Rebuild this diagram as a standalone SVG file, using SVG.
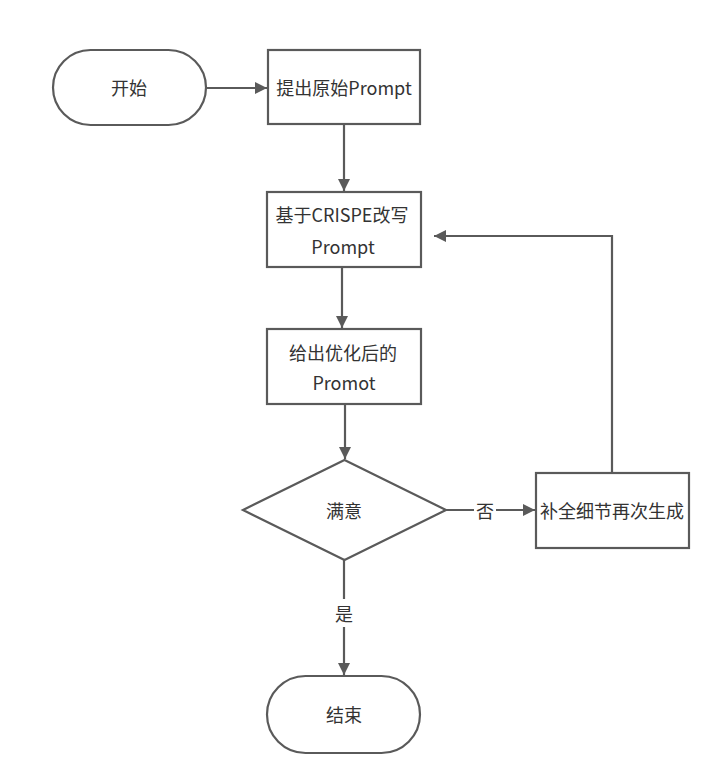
<svg xmlns="http://www.w3.org/2000/svg" width="720" height="770" viewBox="0 0 720 770">
<style>
.s{fill:#fff;stroke:#5a5a5a;stroke-width:2.2}
.c{fill:none;stroke:#5a5a5a;stroke-width:2.2}
text{font-family:"Noto Sans CJK SC","Noto Sans",sans-serif;font-size:18px;fill:#333;text-anchor:middle;dominant-baseline:central}
</style>
<defs>
<marker id="a" viewBox="0 0 10 10" refX="10" refY="5" markerWidth="5.5" markerHeight="5.5" orient="auto" markerUnits="strokeWidth">
<path d="M0,0 L10,5 L0,10 z" fill="#5a5a5a"/>
</marker>
</defs>
<rect width="720" height="770" fill="#fff"/>
<g id="connectors">
<line class="c" x1="206" y1="88" x2="267" y2="88" marker-end="url(#a)"/>
<line class="c" x1="344" y1="124" x2="344" y2="191" marker-end="url(#a)"/>
<line class="c" x1="342" y1="267" x2="342" y2="328" marker-end="url(#a)"/>
<line class="c" x1="345" y1="404" x2="345" y2="459" marker-end="url(#a)"/>
<line class="c" x1="446" y1="510" x2="535" y2="510" marker-end="url(#a)"/>
<rect x="474" y="498" width="22" height="24" fill="#fff"/>
<text x="485" y="510">否</text>
<line class="c" x1="344" y1="560" x2="344" y2="675" marker-end="url(#a)"/>
<rect x="333" y="599" width="22" height="28" fill="#fff"/>
<text x="344" y="613">是</text>
<polyline class="c" points="612,473 612,236 434,236" marker-end="url(#a)"/>
</g>
<g id="start">
<rect class="s" x="53" y="50" width="153" height="75" rx="37.5"/>
<text x="129" y="87">开始</text>
</g>
<g id="n1">
<rect class="s" x="268" y="50" width="152" height="74"/>
<text x="344" y="87">提出原始Prompt</text>
</g>
<g id="n2">
<rect class="s" x="267" y="192" width="154" height="75"/>
<text x="342" y="214">基于CRISPE改写</text>
<text x="343" y="246">Prompt</text>
</g>
<g id="n3">
<rect class="s" x="267" y="329" width="154" height="75"/>
<text x="343" y="352">给出优化后的</text>
<text x="344" y="382">Promot</text>
</g>
<g id="d">
<polygon class="s" points="344.5,460 446,510 344.5,560 243,510"/>
<text x="344" y="510">满意</text>
</g>
<g id="n4">
<rect class="s" x="536" y="473" width="153" height="75"/>
<text x="612" y="510">补全细节再次生成</text>
</g>
<g id="end">
<rect class="s" x="267" y="676" width="153" height="77" rx="38.5"/>
<text x="344" y="714">结束</text>
</g>
</svg>
